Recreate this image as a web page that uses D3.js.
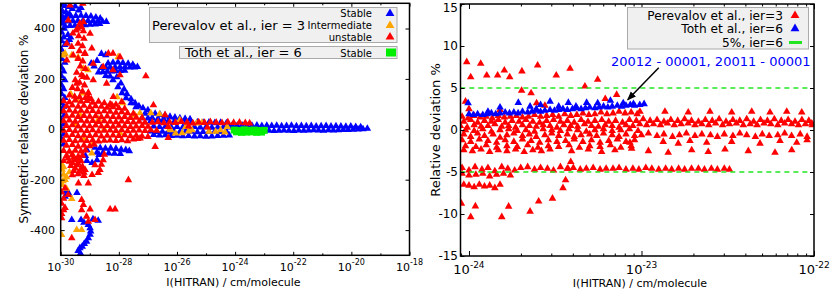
<!DOCTYPE html>
<html>
<head>
<meta charset="utf-8">
<script src="https://cdn.jsdelivr.net/npm/d3@7"></script>
<style>
  body { margin: 0; background: #fff; }
  svg text { font-family: "DejaVu Sans", sans-serif; fill: #000; }
</style>
</head>
<body>
<svg id="chart" width="830" height="292"></svg>
<script>
// ---- data: [log10 I(HITRAN), deviation %] ----

// left panel, Perevalov et al., ier = 3, stable
var leftStable = [
  [-29.97,495],[-29.85,490],[-29.72,486],[-29.6,478],[-29.5,488],[-29.38,472],[-29.3,482],
  [-29.95,470],[-29.82,465],[-29.7,458],
  [-29.97,450],[-29.9,440],[-29.97,420],[-29.88,400],[-29.97,385],[-29.9,365],[-29.97,350],[-29.86,335],
  [-29.97,315],[-29.9,300],[-29.97,280],[-29.86,265],[-29.97,245],[-29.9,230],[-29.97,210],[-29.86,195],
  [-29.97,175],[-29.9,160],[-29.97,140],[-29.86,125],[-29.97,105],[-29.9,90],[-29.97,70],[-29.88,55],
  [-29.97,35],[-29.9,20],[-29.97,0],[-29.9,-20],[-29.97,-40],[-29.9,-60],
  [-29.75,375],[-29.7,355],[-29.78,345],[-29.66,365],
  [-29.82,446],[-29.65,448],[-29.48,450],[-29.3,451],[-29.13,450],[-28.96,448],[-28.79,444],[-28.64,440],
  [-29.92,430],[-29.75,429],[-29.58,430],[-29.41,431],[-29.23,432],[-29.06,431],[-28.89,430],[-28.72,429],[-28.56,428],[-28.43,427],
  [-29.85,410],[-29.68,411],[-29.51,412],[-29.34,413],[-29.16,414],[-28.99,416],[-28.82,417],[-28.66,419],
  [-28.6,300],[-28.45,295],
  [-28.37,262],[-28.2,265],[-28.03,266],[-27.86,264],[-27.68,261],[-27.52,257],
  [-28.85,250],[-28.95,262],[-28.75,272],
  [-28.6,244],[-28.45,245],[-28.3,246],[-28.13,247],[-27.96,247],[-27.79,247],[-27.62,246],[-27.46,246],[-27.36,248],
  [-28.7,226],[-28.55,227],[-28.4,229],[-28.25,230],[-28.1,231],[-27.95,232],[-27.8,233],
  [-28.45,212],[-28.3,210],
  [-28.07,207],[-27.93,183],[-27.82,159],[-27.72,140],[-27.58,120],[-27.44,104],[-27.31,92],[-27.17,84],[-27.0,76],
  [-28.2,195],[-28.03,168],[-27.89,144],[-27.75,124],[-27.58,104],[-27.41,88],
  [-27.1,62],[-26.93,64],[-26.75,62],[-26.58,58],[-26.41,55],[-26.24,50],[-26.07,47],[-25.9,44],[-25.72,42],[-25.55,40],
  [-27.2,45],[-27.0,44],[-26.85,45],[-26.65,42],[-26.45,40],
  [-26.9,33],[-26.7,31],[-26.5,32],[-26.3,30],[-26.1,29],[-25.9,31],[-25.7,28],[-25.5,27],[-25.3,28],[-25.1,26],[-24.9,27],[-24.7,25],[-24.5,26],[-24.3,24],
  [-26.8,12],[-26.6,10],[-26.4,11],[-26.2,9],[-26.0,10],[-25.8,8],[-25.6,9],[-25.4,10],[-25.2,8],[-25.0,9],[-24.8,7],[-24.6,8],[-24.4,9],[-24.2,8],
  [-26.9,-8],[-26.7,-10],[-26.5,-9],[-26.3,-11],[-26.1,-9],[-25.9,-10],[-25.7,-8],[-25.5,-9],[-25.3,-11],[-25.1,-10],[-24.9,-9],[-24.7,-8],[-24.5,-10],[-24.3,-9],
  [-26.8,-22],[-26.6,-24],[-26.4,-23],[-26.2,-26],[-26.0,-25],[-25.8,-27],[-25.6,-26],[-25.4,-28],[-25.2,-27],[-25.0,-29],[-24.8,-28],[-24.6,-26],[-24.4,-25],[-24.2,-24],
  [-24.1,16],[-23.93,15],[-23.76,16],[-23.59,14],[-23.42,15],[-23.25,16],[-23.08,14],[-22.91,15],[-22.74,14],[-22.57,15],[-22.4,13],[-22.23,14],[-22.06,15],[-21.89,13],
  [-21.72,14],[-21.55,13],[-21.38,14],[-21.21,12],[-21.04,13],[-20.87,14],[-20.7,12],[-20.53,13],[-20.36,12],[-20.19,11],[-20.02,12],[-19.85,10],[-19.68,9],
  [-24.02,-6],[-23.85,-5],[-23.68,-7],[-23.51,-6],[-23.34,-5],[-23.17,-6],[-23.0,-7],[-22.83,-5],[-22.66,-6],[-22.49,-5],[-22.32,-4],[-22.15,-5],[-21.98,-6],[-21.81,-4],
  [-21.64,-5],[-21.47,-4],[-21.3,-3],[-21.13,-4],[-20.96,-5],[-20.79,-3],[-20.62,-4],[-20.45,-3],[-20.28,-2],[-20.11,-2],[-19.94,-1],[-19.77,0],[-19.6,1],[-19.45,3],
  [-28.82,-72],[-28.64,-74],[-28.46,-76],[-28.28,-75],[-28.1,-77],[-27.92,-80],[-27.76,-82],[-27.64,-86],
  [-28.75,-92],[-28.55,-94],[-28.35,-95],[-28.15,-96],[-27.95,-97],
  [-29.1,-82],[-29.15,-105],[-29.1,-125],[-28.92,-133],[-28.75,-122],[-28.68,-101],
  [-29.79,-247],[-29.85,-267],[-29.72,-255],[-29.8,-240],[-29.62,-359],[-29.3,-359],[-28.71,-362],[-28.89,-356],[-29.44,-252],[-29.2,-370],
  [-29.05,-379],[-28.99,-392],[-28.97,-405],[-28.99,-418],[-29.05,-432],[-29.11,-445],[-29.19,-454],[-29.26,-465],[-29.34,-471],[-29.4,-482],[-29.32,-492]
];

// left panel, Perevalov et al., ier = 3, intermediate
var leftIntermediate = [
  [-28.02,287],[-29.22,241],[-29.62,294],[-29.85,301],[-29.23,143],[-29.44,116],[-29.06,235],[-28.06,128],
  [-27.86,104],[-27.27,64],[-27.45,57],[-29.4,286],[-29.92,294],[-29.65,140],
  [-26.22,-3],[-26.05,-16],[-25.82,-15],[-25.48,-3],[-25.32,24],[-25.14,26],[-24.9,-9],[-24.67,-9],[-24.5,-3],
  [-24.27,10],[-24.35,-12],[-25.7,10],[-25.6,-8],
  [-26.9,64],[-26.6,60],[-25.9,37],[-26.24,2],
  [-29.5,20],[-29.2,-40],[-28.9,-60],[-29.6,-100],[-28.5,0],[-29.35,60],[-28.7,40],[-27.96,-15],[-28.93,-95],
  [-29.97,-140],[-29.95,-160],[-29.9,-180],[-29.85,-200],[-29.95,-220],[-29.8,-235],[-29.7,-170],[-29.9,-150],
  [-29.8,-190],[-29.62,-276],[-29.45,-399],[-29.28,-399],[-29.97,-419],[-29.92,-205]
];

// left panel, Perevalov et al., ier = 3, unstable
var leftUnstable = [
  [-29.68,492],[-29.24,499],[-29.74,433],[-29.34,420],[-29.28,406],[-29.47,393],[-29.22,426],[-28.99,380],
  [-29.58,381],[-29.79,340],[-29.62,327],[-28.93,321],[-29.16,301],[-29.57,294],[-28.36,301],[-27.96,287],
  [-28.2,301],[-28.88,261],[-28.54,248],[-28.2,235],[-27.96,215],[-29.79,274],[-29.22,208],[-28.88,195],
  [-28.42,182],[-29.45,182],[-28.19,129],[-29.05,129],[-27.9,109],[-28.24,96],[-26.81,96],[-26.41,57],[-27.07,211],
  [-29.42,400],[-29.22,390],[-29.38,370],[-29.2,360],[-29.4,340],[-29.25,330],[-29.36,310],[-29.18,300],
  [-29.4,280],[-29.24,270],[-29.33,250],[-29.15,240],[-29.45,225],[-29.28,215],[-29.1,205],[-29.5,195],
  [-29.35,185],[-29.18,175],[-29.6,165],[-29.42,160],[-29.25,150],[-29.05,145],[-29.7,135],[-29.52,130],
  [-29.35,128],[-29.15,125],[-28.95,120],
  [-29.9,112],[-29.7,108],[-29.5,115],[-29.3,110],[-29.1,113],[-28.9,106],[-28.7,110],[-28.5,104],[-28.3,100],[-28.1,98],
  [-29.8,92],[-29.6,95],[-29.4,90],[-29.2,94],[-29.0,88],[-28.8,92],[-28.6,90],[-28.4,86],[-28.2,88],[-28.0,84],[-27.8,82],
  [-29.9,72],[-29.7,75],[-29.5,70],[-29.3,74],[-29.1,71],[-28.9,73],[-28.7,68],[-28.5,72],[-28.3,70],[-28.1,66],[-27.9,68],[-27.7,64],[-27.5,62],
  [-29.8,52],[-29.6,55],[-29.4,50],[-29.2,54],[-29.0,51],[-28.8,53],[-28.6,49],[-28.4,52],[-28.2,50],[-28.0,48],[-27.8,50],[-27.6,46],[-27.4,47],[-27.2,45],
  [-29.9,33],[-29.7,36],[-29.5,31],[-29.3,35],[-29.1,32],[-28.9,34],[-28.7,30],[-28.5,33],[-28.3,31],[-28.1,29],[-27.9,32],[-27.7,30],[-27.5,28],[-27.3,31],[-27.1,27],
  [-29.8,14],[-29.6,17],[-29.4,12],[-29.2,15],[-29.0,13],[-28.8,16],[-28.6,12],[-28.4,14],[-28.2,11],[-28.0,15],[-27.8,13],[-27.6,10],[-27.4,12],[-27.2,14],[-27.0,11],
  [-26.85,27],[-26.65,29],[-26.45,25],[-26.25,28],[-26.05,26],[-25.85,30],[-25.65,27],[-25.45,24],[-25.25,28],[-25.05,26],[-24.85,29],
  [-24.65,27],[-24.45,25],[-24.25,28],[-24.05,26],[-23.85,27],[-23.65,25],[-23.5,24],[-26.3,10],[-25.6,12],[-24.95,8],
  [-29.9,-5],[-29.7,-2],[-29.5,-7],[-29.3,-4],[-29.1,-6],[-28.9,-3],[-28.7,-8],[-28.5,-5],[-28.3,-4],[-28.1,-6],[-27.9,-3],[-27.7,-7],[-27.5,-5],[-27.3,-4],[-27.1,-6],[-26.9,-3],[-26.7,-5],
  [-29.8,-25],[-29.6,-22],[-29.4,-27],[-29.2,-24],[-29.0,-26],[-28.8,-23],[-28.6,-28],[-28.4,-25],[-28.2,-24],[-28.0,-26],[-27.8,-23],[-27.6,-27],[-27.4,-25],[-27.2,-28],[-27.0,-30],
  [-29.9,-45],[-29.7,-42],[-29.5,-47],[-29.3,-44],[-29.1,-46],[-28.9,-43],[-28.7,-48],[-28.5,-45],[-28.3,-44],[-28.1,-46],[-27.9,-43],[-27.7,-47],[-27.5,-40],[-27.35,-38],
  [-29.8,-65],[-29.6,-62],[-29.4,-68],[-29.2,-64],[-29.0,-66],[-28.85,-60],
  [-29.9,-85],[-29.7,-88],[-29.5,-84],[-29.3,-87],[-29.15,-83],
  [-29.8,-105],[-29.6,-102],[-29.4,-108],[-29.25,-104],
  [-29.75,-115],[-29.55,-112],[-29.35,-116],
  [-29.9,-125],[-29.7,-128],[-29.5,-122],[-29.3,-126],
  [-29.6,-133],[-29.4,-136],
  [-29.65,-145],[-29.45,-142],[-29.25,-148],
  [-29.5,-155],[-29.3,-157],
  [-29.55,-165],[-29.35,-168],[-29.2,-172],
  [-29.6,-182],[-29.4,-178],[-29.2,-185],
  [-28.82,-142],[-28.65,-161],[-28.54,-122],[-28.71,-173],[-28.92,-181],[-29.16,-161],[-28.5,-100],[-28.6,-140],
  [-26.75,-69],[-27.27,-36],[-26.3,-34],[-29.39,-214],[-29.05,-214],[-27.67,-201],[-29.85,-233],[-29.74,-260],
  [-29.28,-280],[-29.85,-312],[-29.28,-320],[-28.99,-317],[-29.11,-346],[-29.05,-366],[-28.3,-317],[-28.13,-317],
  [-29.97,-352],[-29.62,-432],[-28.82,-359],[-29.22,-300],
  [-29.97,-250],[-29.9,-275],[-29.97,-295],[-29.9,-320],[-29.97,-335]
];

// left panel, Toth et al., ier = 6, stable
var leftToth = [
  [-24.03,-3],[-23.86,-5],[-23.69,-2],[-23.52,-4],[-23.34,-3],[-23.17,-5],[-23.0,-4],
  [-23.95,-10],[-23.78,-12],[-23.6,-11],[-23.43,-10],[-23.26,-12],[-23.09,-11]
];

// right panel, Perevalov et al., ier = 3
var rightPerevalov = [
  [-24.013,8.1],[-23.99,6.3],[-23.932,7.9],[-23.897,6.5],[-23.834,6.5],[-23.795,7.1],[-23.764,6.3],[-23.693,7.0],
  [-23.602,7.7],[-23.494,6.5],[-23.414,7.3],[-23.254,6.0],[-23.328,5.2],[-23.695,4.7],[-23.64,4.4],[-23.144,4.2],
  [-23.21,3.7],[-23.608,3.2],[-23.56,2.9],[-24.02,3.4],[-24.0,2.5],[-23.82,2.4],
  [-24.04,1.6],[-24.005,1.4],[-23.97,1.7],[-23.935,1.5],[-23.9,1.6],[-23.865,1.4],[-23.83,1.7],[-23.795,1.5],
  [-23.76,1.6],[-23.725,1.7],[-23.69,1.5],[-23.655,1.6],[-23.62,1.8],[-23.585,1.6],[-23.55,1.7],[-23.515,1.8],
  [-23.48,1.6],[-23.445,1.9],[-23.41,1.7],[-23.375,1.8],[-23.34,2.0],[-23.305,1.8],[-23.27,1.9],[-23.235,2.1],
  [-23.2,1.9],[-23.165,2.0],[-23.13,2.2],[-23.095,2.0],[-23.06,2.1],[-23.025,1.9],
  [-23.009,2.2],[-22.864,2.2],[-22.729,2.1],[-22.603,2.2],[-22.477,2.1],[-22.361,2.2],[-22.255,2.1],[-22.158,2.2],[-22.071,2.1],[-22.013,0.8],
  [-24.03,1.0],[-23.99,1.2],[-23.95,0.9],[-23.91,1.1],[-23.87,1.0],[-23.83,1.2],[-23.79,0.9],[-23.75,1.1],[-23.71,1.0],
  [-23.67,1.2],[-23.63,1.0],[-23.59,0.9],[-23.55,1.1],[-23.51,1.2],[-23.47,1.0],[-23.43,1.1],[-23.39,0.9],[-23.35,1.2],
  [-23.31,1.0],[-23.27,1.1],[-23.23,1.2],[-23.19,1.0],[-23.15,1.1],[-23.11,0.9],[-23.07,1.2],[-23.03,1.1],[-22.99,1.3],
  [-22.95,1.1],[-22.91,1.2],[-22.87,1.0],[-22.83,1.2],[-22.79,1.1],[-22.75,1.3],[-22.71,1.1],[-22.67,1.0],[-22.63,1.2],
  [-22.59,1.1],[-22.55,1.3],[-22.51,1.0],[-22.47,1.2],[-22.43,1.1],[-22.39,1.3],[-22.35,1.0],[-22.31,1.2],[-22.27,1.1],
  [-22.23,1.3],[-22.19,1.1],[-22.15,1.2],[-22.11,1.0],[-22.07,1.2],[-22.03,1.1],
  [-24.05,0.5],[-24.01,0.3],[-23.97,0.6],[-23.93,0.4],[-23.89,0.5],[-23.85,0.7],[-23.81,0.4],[-23.77,0.5],[-23.73,0.3],
  [-23.69,0.6],[-23.65,0.5],[-23.61,0.4],[-23.57,0.6],[-23.53,0.5],[-23.49,0.3],[-23.45,0.6],[-23.41,0.5],[-23.37,0.4],
  [-23.33,0.7],[-23.29,0.5],[-23.25,0.4],[-23.21,0.6],[-23.17,0.5],[-23.13,0.3],[-23.09,0.6],[-23.05,0.5],[-23.01,0.7],
  [-22.97,0.6],[-22.93,0.7],[-22.89,0.6],[-22.85,0.8],[-22.81,0.6],[-22.77,0.7],[-22.73,0.8],[-22.69,0.6],[-22.65,0.7],
  [-22.61,0.6],[-22.57,0.8],[-22.53,0.6],[-22.49,0.7],[-22.45,0.8],[-22.41,0.6],[-22.37,0.7],[-22.33,0.6],[-22.29,0.8],
  [-22.25,0.7],[-22.21,0.6],[-22.17,0.8],[-22.13,0.7],[-22.09,0.6],[-22.05,0.7],[-22.01,0.6],
  [-24.02,0.0],[-23.97,-0.1],[-23.92,0.1],[-23.87,-0.2],[-23.82,0.0],[-23.77,0.1],[-23.72,-0.1],[-23.67,0.0],
  [-23.62,-0.2],[-23.57,0.1],[-23.52,0.0],[-23.47,-0.1],[-23.42,0.1],[-23.37,0.0],[-23.32,-0.2],[-23.27,0.0],
  [-23.22,0.1],[-23.17,-0.1],[-23.12,0.0],[-23.07,0.1],[-23.02,-0.1],
  [-24.03,-0.5],[-23.99,-0.8],[-23.95,-0.4],[-23.91,-0.7],[-23.86,-0.5],[-23.82,-0.9],[-23.78,-0.6],[-23.74,-0.4],
  [-23.69,-0.7],[-23.65,-0.5],[-23.61,-0.8],[-23.56,-0.6],[-23.52,-0.4],[-23.48,-0.7],[-23.43,-0.5],[-23.39,-0.8],
  [-23.35,-0.6],[-23.3,-0.5],[-23.26,-0.7],[-23.22,-0.4],[-23.17,-0.6],[-23.13,-0.8],[-23.09,-0.5],[-23.04,-0.7],
  [-23.0,-0.6],[-22.96,-0.4],[-22.91,-0.7],[-22.87,-0.5],[-22.82,-0.8],[-22.78,-0.6],[-22.74,-0.4],[-22.69,-0.7],
  [-22.65,-0.5],[-22.6,-0.6],[-22.56,-0.8],[-22.52,-0.5],[-22.47,-0.7],[-22.43,-0.4],[-22.39,-0.6],[-22.34,-0.8],
  [-22.3,-0.5],[-22.26,-0.7],[-22.21,-0.6],[-22.17,-0.4],[-22.13,-0.7],[-22.08,-0.5],[-22.04,-0.8],
  [-24.04,-1.2],[-23.99,-1.4],[-23.94,-1.1],[-23.89,-1.3],[-23.84,-1.5],[-23.79,-1.2],[-23.74,-1.4],[-23.69,-1.1],
  [-23.64,-1.3],[-23.59,-1.5],[-23.54,-1.2],[-23.49,-1.4],[-23.44,-1.3],[-23.39,-1.1],[-23.34,-1.4],[-23.29,-1.2],
  [-23.24,-1.5],[-23.19,-1.3],[-23.14,-1.1],[-23.09,-1.4],[-23.04,-1.2],
  [-23.067,-1.5],[-22.874,-1.4],[-22.787,-1.6],[-22.719,-1.3],[-22.622,-1.5],[-22.477,-1.4],[-22.313,-1.6],[-22.197,-1.3],[-22.1,-1.5],[-22.04,-1.2],
  [-24.02,-1.9],[-23.96,-2.0],[-23.9,-1.8],[-23.84,-2.1],[-23.78,-1.9],[-23.72,-2.0],[-23.66,-1.8],[-23.6,-2.1],
  [-23.54,-1.9],[-23.48,-2.0],[-23.42,-1.8],[-23.36,-2.1],[-23.3,-1.9],[-23.24,-2.0],[-23.18,-1.8],[-23.12,-2.1],[-23.06,-1.9],
  [-24.03,-2.4],[-23.98,-2.5],[-23.93,-2.3],[-23.88,-2.6],[-23.83,-2.4],[-23.78,-2.5],[-23.73,-2.3],[-23.68,-2.6],
  [-23.63,-2.4],[-23.58,-2.5],[-23.53,-2.3],
  [-23.405,-2.5],[-23.308,-2.3],[-23.231,-2.6],[-23.154,-2.4],[-23.057,-2.2],[-22.96,-2.5],[-22.845,-2.7],
  [-22.709,-2.4],[-22.613,-2.6],[-22.516,-2.3],[-22.381,-2.5],[-22.226,-2.7],[-22.129,-2.4],
  [-24.04,-4.5],[-24.0,-4.8],[-23.965,-4.4],[-23.925,-4.7],[-23.89,-4.5],[-23.85,-4.9],[-23.81,-4.4],[-23.775,-4.6],
  [-23.735,-4.8],[-23.7,-4.5],[-23.66,-4.4],[-23.62,-4.7],[-23.585,-4.5],[-23.545,-4.6],[-23.51,-4.8],[-23.47,-4.4],
  [-23.43,-4.6],[-23.395,-4.5],[-23.355,-4.7],[-23.32,-4.6],[-23.28,-4.5],[-23.24,-4.7],[-23.205,-4.6],[-23.165,-4.6],
  [-23.13,-4.5],[-23.09,-4.7],[-23.05,-4.6],[-23.015,-4.7],[-22.975,-4.5],[-22.94,-4.6],[-22.9,-4.7],[-22.86,-4.6],
  [-22.825,-4.7],[-22.785,-4.6],[-22.75,-4.7],[-22.71,-4.6],[-22.67,-4.6],[-22.635,-4.7],[-22.595,-4.6],[-22.56,-4.7],
  [-22.52,-4.6],[-22.49,-4.7],
  [-24.04,-5.2],[-24.0,-5.4],[-23.96,-5.3],[-23.92,-5.2],[-23.88,-5.5],[-23.84,-5.3],[-23.8,-5.2],[-23.76,-5.4],
  [-24.03,-6.5],[-24.0,-6.6],[-23.97,-6.8],[-23.94,-6.5],[-23.91,-6.7],[-23.88,-6.6],[-23.85,-6.9],[-23.82,-6.5],
  [-24.044,-8.75],[-23.99,-10.35],[-23.963,-9.07],[-23.81,-10.35],[-23.77,-9.1],[-23.646,-9.7],[-23.596,-8.5],
  [-23.516,-8.15],[-23.455,-6.9],[-23.44,-5.97],[-23.41,-3.8],[-23.426,-4.6]
];

// right panel, Toth et al., ier = 6
var rightToth = [
  [-24.0,1.9],[-23.975,1.8],[-23.95,1.9],[-23.92,1.8],[-23.895,1.9],[-23.87,2.0],[-23.845,1.9],[-23.82,2.0],
  [-23.79,2.1],[-23.765,2.0],[-23.74,2.1],[-23.715,2.0],[-23.69,2.2],[-23.66,2.1],[-23.635,2.2],[-23.61,2.3],
  [-23.585,2.2],[-23.56,2.3],[-23.53,2.4],[-23.505,2.3],[-23.48,2.4],[-23.455,2.5],[-23.43,2.4],[-23.4,2.5],
  [-23.375,2.6],[-23.35,2.5],[-23.325,2.6],[-23.3,2.7],[-23.27,2.6],[-23.245,2.7],[-23.22,2.8],[-23.195,2.7],
  [-23.17,2.8],[-23.14,2.9],[-23.115,2.8],[-23.09,2.9],[-23.065,3.0],[-23.04,2.9],[-23.01,3.0],[-22.985,3.1],
  [-24.005,3.2],[-23.89,2.2],[-23.82,2.7],[-23.714,3.25],[-23.646,2.8],[-23.61,2.5],[-23.585,3.0],[-23.53,3.4],
  [-23.48,2.8],[-23.424,3.25],[-23.38,2.8],[-23.318,3.25],[-23.254,3.2],[-23.18,3.5],[-23.106,3.2],[-23.047,3.1]
];

var leftXMajor = [-30, -28, -26, -24, -22, -20, -18];
var leftXMinor = [-29, -27, -25, -23, -21, -19];
var leftYTicks = [-400, -200, 0, 200, 400];
var rightXMajor = [-24, -23, -22];
var rightYTicks = [-15, -10, -5, 0, 5, 10, 15];
var dashLevels = [5, -5];
var dashSpan = [-24.05, -22.038];
var annotation = "20012 - 00001, 20011 - 00001";

// ---- drawing ----
var svg = d3.select("#chart");
var p10 = function(e){ return Math.pow(10, e); };

var xL = d3.scaleLog().domain([1e-30, 1e-18]).range([60.7, 409.5]);
var yL = d3.scaleLinear().domain([-500, 500]).range([255.3, 3.3]);
var xR = d3.scaleLog().domain([8.93e-25, 1e-22]).range([460.5, 814]);
var yR = d3.scaleLinear().domain([-15, 15]).range([256, 4]);

var defs = svg.append("defs");
function clip(id, x, y) {
  defs.append("clipPath").attr("id", id).append("rect")
    .attr("x", x.range()[0]).attr("y", y.range()[1])
    .attr("width", x.range()[1] - x.range()[0])
    .attr("height", y.range()[0] - y.range()[1]);
}
clip("clipL", xL, yL);
clip("clipR", xR, yR);

defs.append("marker").attr("id", "arrow")
  .attr("viewBox", "0 0 10 10").attr("refX", 9).attr("refY", 5)
  .attr("markerWidth", 6).attr("markerHeight", 6).attr("orient", "auto")
  .append("path").attr("d", "M0,1 L10,5 L0,9 z").attr("fill", "#000");

var tri = d3.symbol().type(d3.symbolTriangle).size(25);

function triangles(g, data, x, y, color) {
  g.append("g").selectAll("path").data(data).enter().append("path")
    .attr("d", tri)
    .attr("transform", function(d){ return "translate(" + x(p10(d[0])) + "," + y(d[1]) + ")"; })
    .attr("fill", color);
}

function frame(x, y, major, minor, majLen, minLen, yTicks) {
  var g = svg.append("g");
  var x0 = x.range()[0], x1 = x.range()[1], y0 = y.range()[0], y1 = y.range()[1];
  g.append("g").attr("transform", "translate(0," + y0 + ")")
    .call(d3.axisBottom(x).tickValues(major).tickSize(-majLen).tickFormat(""));
  g.append("g").attr("transform", "translate(0," + y0 + ")")
    .call(d3.axisBottom(x).tickValues(minor).tickSize(-minLen).tickFormat(""));
  g.append("g").attr("transform", "translate(0," + y1 + ")")
    .call(d3.axisTop(x).tickValues(major).tickSize(-majLen).tickFormat(""));
  g.append("g").attr("transform", "translate(0," + y1 + ")")
    .call(d3.axisTop(x).tickValues(minor).tickSize(-minLen).tickFormat(""));
  g.append("g").attr("transform", "translate(" + x0 + ",0)")
    .call(d3.axisLeft(y).tickValues(yTicks).tickSize(-4).tickFormat(""));
  g.append("g").attr("transform", "translate(" + x1 + ",0)")
    .call(d3.axisRight(y).tickValues(yTicks).tickSize(-4).tickFormat(""));
  g.selectAll(".domain").remove();
  g.selectAll(".tick line").attr("stroke", "#000").attr("stroke-width", 1);
  g.append("rect").attr("x", x0).attr("y", y1)
    .attr("width", x1 - x0).attr("height", y0 - y1)
    .attr("fill", "none").attr("stroke", "#000").attr("stroke-width", 1.5);
}

function powLabels(x, exps, baseY, size, supSize, rise) {
  exps.forEach(function(e){
    var t = svg.append("text").attr("x", x(p10(e))).attr("y", baseY)
      .attr("text-anchor", "middle").attr("font-size", size);
    t.append("tspan").text("10");
    t.append("tspan").attr("font-size", supSize).attr("dy", -rise).text(e);
  });
}

// left panel
var gl = svg.append("g").attr("clip-path", "url(#clipL)");
triangles(gl, leftStable, xL, yL, "#0000ff");
triangles(gl, leftIntermediate, xL, yL, "#ffa500");
triangles(gl, leftUnstable, xL, yL, "#ff0000");
gl.append("g").selectAll("rect").data(leftToth).enter().append("rect")
  .attr("x", function(d){ return xL(p10(d[0])) - 3.5; })
  .attr("y", function(d){ return yL(d[1]) - 3.5; })
  .attr("width", 7).attr("height", 7).attr("fill", "#00ee00");

frame(xL, yL, leftXMajor.map(p10), leftXMinor.map(p10), 3.5, 2, leftYTicks);
powLabels(xL, leftXMajor, 270.5, 11, 8, 5.5);
leftYTicks.forEach(function(v){
  svg.append("text").attr("x", 55).attr("y", yL(v)).attr("dy", "0.36em")
    .attr("text-anchor", "end").attr("font-size", 11).text(v);
});
svg.append("text").attr("x", 233.5).attr("y", 286).attr("text-anchor", "middle")
  .attr("font-size", 11).text("I(HITRAN) / cm/molecule");
svg.append("text").attr("transform", "translate(28,129) rotate(-90)")
  .attr("text-anchor", "middle").attr("font-size", 12).text("Symmetric relative deviation %");

// left legend
svg.append("rect").attr("x", 149.5).attr("y", 7.5).attr("width", 247.5).attr("height", 35)
  .attr("fill", "#f0f0f0").attr("stroke", "#aaa").attr("stroke-width", 1);
svg.append("rect").attr("x", 179.5).attr("y", 46.5).attr("width", 217.5).attr("height", 12)
  .attr("fill", "#f0f0f0").attr("stroke", "#aaa").attr("stroke-width", 1);
svg.append("text").attr("x", 152).attr("y", 30).attr("font-size", 13).text("Perevalov et al., ier = 3");
svg.append("text").attr("x", 185).attr("y", 57.3).attr("font-size", 13).text("Toth et al., ier = 6");
var legL = [["Stable", 17, "#0000ff", 13.5], ["Intermediate", 29, "#ffa500", 25.5], ["unstable", 40.7, "#ff0000", 37]];
legL.forEach(function(r){
  svg.append("text").attr("x", 372).attr("y", r[1]).attr("text-anchor", "end").attr("font-size", 10).text(r[0]);
  svg.append("path").attr("d", d3.symbol().type(d3.symbolTriangle).size(34))
    .attr("transform", "translate(390," + r[3] + ")").attr("fill", r[2]);
});
svg.append("text").attr("x", 372).attr("y", 57).attr("text-anchor", "end").attr("font-size", 10).text("Stable");
svg.append("rect").attr("x", 386).attr("y", 48.5).attr("width", 10).attr("height", 8).attr("fill", "#00ee00");

// right panel
var gr = svg.append("g").attr("clip-path", "url(#clipR)");
triangles(gr, rightPerevalov, xR, yR, "#ff0000");
dashLevels.forEach(function(v){
  gr.append("line").attr("x1", xR(p10(dashSpan[0]))).attr("x2", xR(p10(dashSpan[1])))
    .attr("y1", yR(v)).attr("y2", yR(v))
    .attr("stroke", "#22e622").attr("stroke-width", 1.4).attr("stroke-dasharray", "5,4");
});
triangles(gr, rightToth, xR, yR, "#0000ff");

frame(xR, yR, rightXMajor.map(p10), xR.ticks().filter(function(t){
  return Math.abs(Math.log10(t) - Math.round(Math.log10(t))) > 1e-6;
}), 5, 2.5, rightYTicks);
powLabels(xR, rightXMajor, 274, 13, 9, 5.6);
rightYTicks.forEach(function(v){
  svg.append("text").attr("x", 458).attr("y", Math.max(yR(v), 8)).attr("dy", "0.36em")
    .attr("text-anchor", "end").attr("font-size", 12).text(v);
});
svg.append("text").attr("x", 640).attr("y", 287).attr("text-anchor", "middle")
  .attr("font-size", 11).text("I(HITRAN) / cm/molecule");
svg.append("text").attr("transform", "translate(440,130) rotate(-90)")
  .attr("text-anchor", "middle").attr("font-size", 13).text("Relative deviation %");

// right legend
svg.append("rect").attr("x", 627.5).attr("y", 7.5).attr("width", 181).attr("height", 41.5)
  .attr("fill", "#f0f0f0").attr("stroke", "#aaa").attr("stroke-width", 1);
var legR = [["Perevalov et al., ier=3", 20, "#ff0000"], ["Toth et al., ier=6", 33.2, "#0000ff"], ["5%, ier=6", 46.5, null]];
legR.forEach(function(r){
  svg.append("text").attr("x", 783).attr("y", r[1]).attr("text-anchor", "end").attr("font-size", 12.2).text(r[0]);
  if (r[2]) {
    svg.append("path").attr("d", d3.symbol().type(d3.symbolTriangle).size(34))
      .attr("transform", "translate(795," + (r[1] - 4.5) + ")").attr("fill", r[2]);
  } else {
    svg.append("line").attr("x1", 789).attr("x2", 802).attr("y1", r[1] - 4).attr("y2", r[1] - 4)
      .attr("stroke", "#22e622").attr("stroke-width", 3);
  }
});

// annotation
svg.append("text").attr("x", xR(p10(-22.02))).attr("y", yR(7.62)).attr("text-anchor", "end")
  .attr("font-size", 13).style("fill", "#0000ff").text(annotation);
svg.append("line")
  .attr("x1", xR(p10(-22.9))).attr("y1", yR(7.4))
  .attr("x2", xR(p10(-23.08))).attr("y2", yR(3.6))
  .attr("stroke", "#000").attr("stroke-width", 1.5).attr("marker-end", "url(#arrow)");
</script>
</body>
</html>
